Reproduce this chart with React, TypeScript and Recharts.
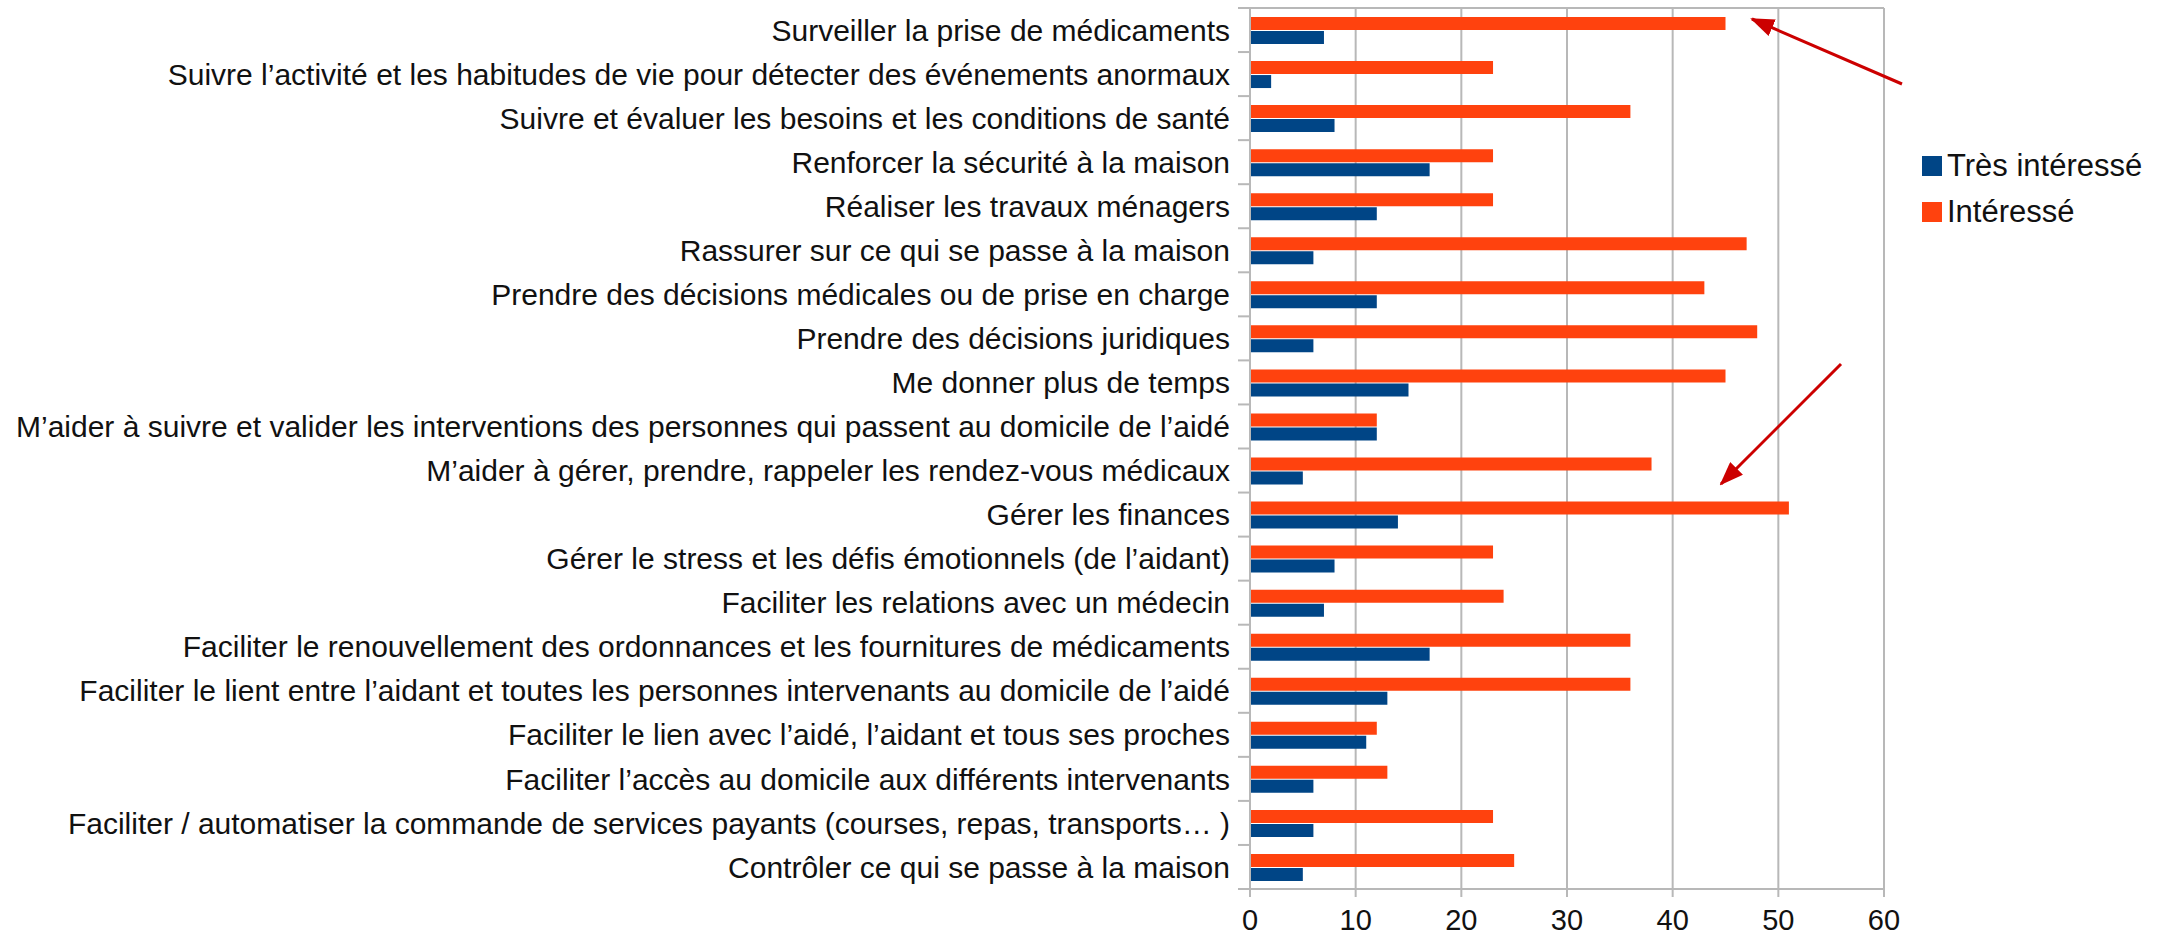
import { BarChart, Bar, XAxis, YAxis, CartesianGrid, Legend } from 'recharts';

const categories = [
  'Surveiller la prise de médicaments',
  'Suivre l’activité et les habitudes de vie pour détecter des événements anormaux',
  'Suivre et évaluer les besoins et les conditions de santé',
  'Renforcer la sécurité à la maison',
  'Réaliser les travaux ménagers',
  'Rassurer sur ce qui se passe à la maison',
  'Prendre des décisions médicales ou de prise en charge',
  'Prendre des décisions juridiques',
  'Me donner plus de temps',
  'M’aider à suivre et valider les interventions des personnes qui passent au domicile de l’aidé',
  'M’aider à gérer, prendre, rappeler les rendez-vous médicaux',
  'Gérer les finances',
  'Gérer le stress et les défis émotionnels (de l’aidant)',
  'Faciliter les relations avec un médecin',
  'Faciliter le renouvellement des ordonnances et les fournitures de médicaments',
  'Faciliter le lient entre l’aidant et toutes les personnes intervenants au domicile de l’aidé',
  'Faciliter le lien avec l’aidé, l’aidant et tous ses proches',
  'Faciliter l’accès au domicile aux différents intervenants',
  'Faciliter / automatiser la commande de services payants (courses, repas, transports… )',
  'Contrôler ce qui se passe à la maison',
];

const tresInteresse = [7, 2, 8, 17, 12, 6, 12, 6, 15, 12, 5, 14, 8, 7, 17, 13, 11, 6, 6, 5];
const interesse = [45, 23, 36, 23, 23, 47, 43, 48, 45, 12, 38, 51, 23, 24, 36, 36, 12, 13, 23, 25];

const xTicks = [0, 10, 20, 30, 40, 50, 60];

const data = categories.map((name, i) => ({
  name,
  tres: tresInteresse[i],
  int: interesse[i],
}));

const FONT = '"Liberation Sans", Arial, sans-serif';
const BLUE = '#004586';
const ORANGE = '#ff420e';
const GRID = '#b8b8b8';
const ARROW = '#cc0000';

// red arrows drawn over the picture (annotations, page pixels)
const arrowLines = [
  { x1: 1902, y1: 84, x2: 1752, y2: 19 },
  { x1: 1841, y1: 364, x2: 1721, y2: 484 },
];

// category label plus a short tick on the row boundaries
const CategoryTick = (props: any) => {
  const { x, y, payload, index } = props;
  const half = payload?.offset ?? 0;
  const last = index === categories.length - 1;
  return (
    <g>
      <line x1={x - 12} x2={x} y1={y - half} y2={y - half} stroke={GRID} strokeWidth={2} />
      {last && <line x1={x - 12} x2={x} y1={y + half} y2={y + half} stroke={GRID} strokeWidth={2} />}
      <text x={x - 20} y={y} dy="0.355em" textAnchor="end" fontFamily={FONT} fontSize={30} fill="#111">
        {payload.value}
      </text>
    </g>
  );
};

const renderLegend = (props: any) => {
  const items = [...(props.payload || [])].reverse();
  return (
    <div style={{ fontFamily: FONT, fontSize: 31, color: '#111' }}>
      {items.map((it: any) => (
        <div key={it.value} style={{ display: 'flex', alignItems: 'center', height: 46 }}>
          <span style={{ width: 20, height: 20, background: it.color, marginRight: 5, display: 'inline-block' }} />
          <span>{it.value}</span>
        </div>
      ))}
    </div>
  );
};

export default function App() {
  return (
    <div style={{ position: 'absolute', left: 0, top: 0, width: 2175, height: 938, background: '#fff' }}>
      <BarChart
        width={2175}
        height={938}
        data={data}
        layout="vertical"
        margin={{ top: 7, right: 291, bottom: 0, left: 0 }}
        barSize={13}
        barGap={1}
      >
        <CartesianGrid horizontal={false} stroke={GRID} strokeWidth={2} />
        <XAxis
          type="number"
          domain={[0, 60]}
          ticks={xTicks}
          interval={0}
          height={49}
          tickSize={8}
          tickMargin={12}
          axisLine={{ stroke: GRID, strokeWidth: 2 }}
          tickLine={{ stroke: GRID, strokeWidth: 2 }}
          tick={{ fontFamily: FONT, fontSize: 29, fill: '#111' }}
        />
        <XAxis
          xAxisId="top"
          orientation="top"
          type="number"
          domain={[0, 60]}
          ticks={xTicks}
          height={1}
          tick={false}
          tickLine={false}
          axisLine={{ stroke: GRID, strokeWidth: 2 }}
        />
        <YAxis
          type="category"
          dataKey="name"
          width={1250}
          interval={0}
          tickSize={0}
          tickMargin={0}
          axisLine={{ stroke: GRID, strokeWidth: 2 }}
          tickLine={false}
          tick={<CategoryTick />}
        />
        <Bar dataKey="int" name="Intéressé" fill={ORANGE} isAnimationActive={false} />
        <Bar dataKey="tres" name="Très intéressé" fill={BLUE} isAnimationActive={false} />
        <Legend
          layout="vertical"
          align="center"
          verticalAlign="middle"
          wrapperStyle={{ left: 1922, top: 143, width: 'auto' }}
          content={renderLegend}
        />
      </BarChart>
      <svg width={2175} height={938} style={{ position: 'absolute', left: 0, top: 0, pointerEvents: 'none' }}>
        <defs>
          <marker id="arrowHead" markerWidth="24" markerHeight="18" refX="22" refY="9" orient="auto" markerUnits="userSpaceOnUse">
            <path d="M0,0 L24,9 L0,18 Z" fill={ARROW} />
          </marker>
        </defs>
        {arrowLines.map((a, i) => (
          <line key={i} x1={a.x1} y1={a.y1} x2={a.x2} y2={a.y2} stroke={ARROW} strokeWidth={3} markerEnd="url(#arrowHead)" />
        ))}
      </svg>
    </div>
  );
}
